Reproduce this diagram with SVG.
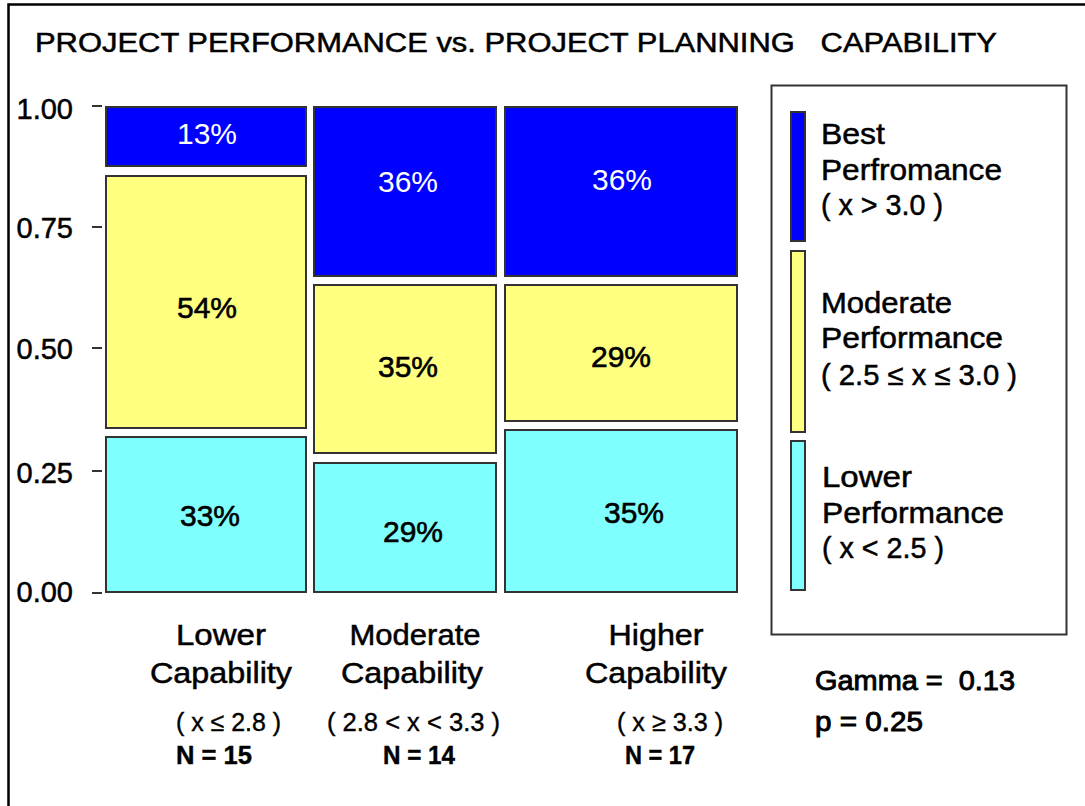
<svg xmlns="http://www.w3.org/2000/svg" width="1085" height="806" viewBox="0 0 1085 806">
<style>
.t{font-family:"Liberation Sans",Arial,sans-serif;fill:#000;stroke:#000;stroke-width:0.5}
.st{font-family:"Liberation Sans",Arial,sans-serif;fill:#000;stroke:#000;stroke-width:0.9}
.n{font-family:"Liberation Sans Narrow","Liberation Sans",Arial,sans-serif;fill:#000;stroke:#000;stroke-width:0.4}
.cell{stroke:#333;stroke-width:2}
.b{fill:#0000FF}
.y{fill:#FFFF80}
.c{fill:#80FFFF}
.pct{font-family:"Liberation Sans",Arial,sans-serif;font-size:30px;text-anchor:middle}
.pk{fill:#000;stroke:#000;stroke-width:0.6}
.pw{fill:#fff}
.ax{font-family:"Liberation Sans",Arial,sans-serif;font-size:29px;text-anchor:end;fill:#000;stroke:#000;stroke-width:0.5}
.lg{font-family:"Liberation Sans",Arial,sans-serif;font-size:29px;fill:#000;stroke:#000;stroke-width:0.5}
.xl{font-family:"Liberation Sans",Arial,sans-serif;font-size:29px;fill:#000;text-anchor:middle;stroke:#000;stroke-width:0.5}
.tick{stroke:#333;stroke-width:2}
</style>
<rect x="0" y="0" width="1085" height="806" fill="#fff"/>
<rect x="8.5" y="4.5" width="1100" height="900" fill="none" stroke="#000" stroke-width="2.5"/>
<g id="title">
<text class="t" x="35" y="52" font-size="27" textLength="962" lengthAdjust="spacingAndGlyphs" xml:space="preserve">PROJECT PERFORMANCE vs. PROJECT PLANNING   CAPABILITY</text>
</g>
<g id="y-axis">
<line class="tick" x1="92" y1="106" x2="102" y2="106"/>
<line class="tick" x1="92" y1="227" x2="102" y2="227"/>
<line class="tick" x1="92" y1="348" x2="102" y2="348"/>
<line class="tick" x1="92" y1="471" x2="102" y2="471"/>
<line class="tick" x1="92" y1="593" x2="102" y2="593"/>
<text class="ax" x="73" y="119">1.00</text>
<text class="ax" x="73" y="238">0.75</text>
<text class="ax" x="73" y="359">0.50</text>
<text class="ax" x="73" y="483">0.25</text>
<text class="ax" x="73" y="602">0.00</text>
</g>
<g id="col-lower">
<rect class="cell b" x="106" y="107" width="200" height="59"/>
<rect class="cell y" x="106" y="176" width="200" height="252"/>
<rect class="cell c" x="106" y="437" width="200" height="155"/>
<text class="pct pw" x="207" y="144">13%</text>
<text class="pct pk" x="207" y="318">54%</text>
<text class="pct pk" x="210" y="526">33%</text>
</g>
<g id="col-moderate">
<rect class="cell b" x="314" y="107" width="182" height="169"/>
<rect class="cell y" x="314" y="285" width="182" height="168"/>
<rect class="cell c" x="314" y="463" width="182" height="129"/>
<text class="pct pw" x="408" y="192">36%</text>
<text class="pct pk" x="408" y="377">35%</text>
<text class="pct pk" x="413" y="542">29%</text>
</g>
<g id="col-higher">
<rect class="cell b" x="505" y="107" width="232" height="169"/>
<rect class="cell y" x="505" y="285" width="232" height="136"/>
<rect class="cell c" x="505" y="430" width="232" height="162"/>
<text class="pct pw" x="622" y="190">36%</text>
<text class="pct pk" x="621" y="367">29%</text>
<text class="pct pk" x="634" y="523">35%</text>
</g>
<g id="x-labels">
<text class="xl" x="221" y="645" textLength="90" lengthAdjust="spacingAndGlyphs">Lower</text>
<text class="xl" x="221" y="683" textLength="142" lengthAdjust="spacingAndGlyphs">Capability</text>
<text class="xl" x="415" y="645" textLength="131" lengthAdjust="spacingAndGlyphs">Moderate</text>
<text class="xl" x="412" y="683" textLength="142" lengthAdjust="spacingAndGlyphs">Capability</text>
<text class="xl" x="656" y="645" textLength="95" lengthAdjust="spacingAndGlyphs">Higher</text>
<text class="xl" x="656" y="683" textLength="142" lengthAdjust="spacingAndGlyphs">Capability</text>
<text class="n" x="176" y="731" font-size="26" textLength="105" lengthAdjust="spacingAndGlyphs">( x ≤ 2.8 )</text>
<text class="n" x="327" y="731" font-size="26" textLength="173" lengthAdjust="spacingAndGlyphs">( 2.8 &lt; x &lt; 3.3 )</text>
<text class="n" x="617" y="731" font-size="26" textLength="106" lengthAdjust="spacingAndGlyphs">( x ≥ 3.3 )</text>
<text class="n" x="176" y="764" font-size="25" font-weight="bold" textLength="76" lengthAdjust="spacingAndGlyphs">N = 15</text>
<text class="n" x="383" y="764" font-size="25" font-weight="bold" textLength="72" lengthAdjust="spacingAndGlyphs">N = 14</text>
<text class="n" x="625" y="764" font-size="25" font-weight="bold" textLength="70" lengthAdjust="spacingAndGlyphs">N = 17</text>
</g>
<g id="legend">
<rect x="771.5" y="85.5" width="295" height="549" fill="#fff" stroke="#333" stroke-width="2"/>
<rect class="cell b" x="791" y="112" width="14" height="129"/>
<rect class="cell y" x="791" y="251" width="14" height="181"/>
<rect class="cell c" x="791" y="441" width="14" height="149"/>
<text class="lg" x="821" y="144" textLength="64" lengthAdjust="spacingAndGlyphs">Best</text>
<text class="lg" x="821" y="180" textLength="181" lengthAdjust="spacingAndGlyphs">Perfromance</text>
<text class="lg" x="821" y="215" textLength="122" lengthAdjust="spacingAndGlyphs">( x &gt; 3.0 )</text>
<text class="lg" x="821" y="313" textLength="131" lengthAdjust="spacingAndGlyphs">Moderate</text>
<text class="lg" x="821" y="348" textLength="182" lengthAdjust="spacingAndGlyphs">Performance</text>
<text class="lg" x="821" y="385" textLength="196" lengthAdjust="spacingAndGlyphs">( 2.5 ≤ x ≤ 3.0 )</text>
<text class="lg" x="822" y="487" textLength="90" lengthAdjust="spacingAndGlyphs">Lower</text>
<text class="lg" x="822" y="523" textLength="182" lengthAdjust="spacingAndGlyphs">Performance</text>
<text class="lg" x="822" y="558" textLength="122" lengthAdjust="spacingAndGlyphs">( x &lt; 2.5 )</text>
</g>
<g id="stats">
<text class="st" x="815" y="690" font-size="27" textLength="200" lengthAdjust="spacingAndGlyphs" xml:space="preserve">Gamma =  0.13</text>
<text class="st" x="815" y="731" font-size="27" textLength="108" lengthAdjust="spacingAndGlyphs">p = 0.25</text>
</g>
<g id="connectors"></g>
</svg>
